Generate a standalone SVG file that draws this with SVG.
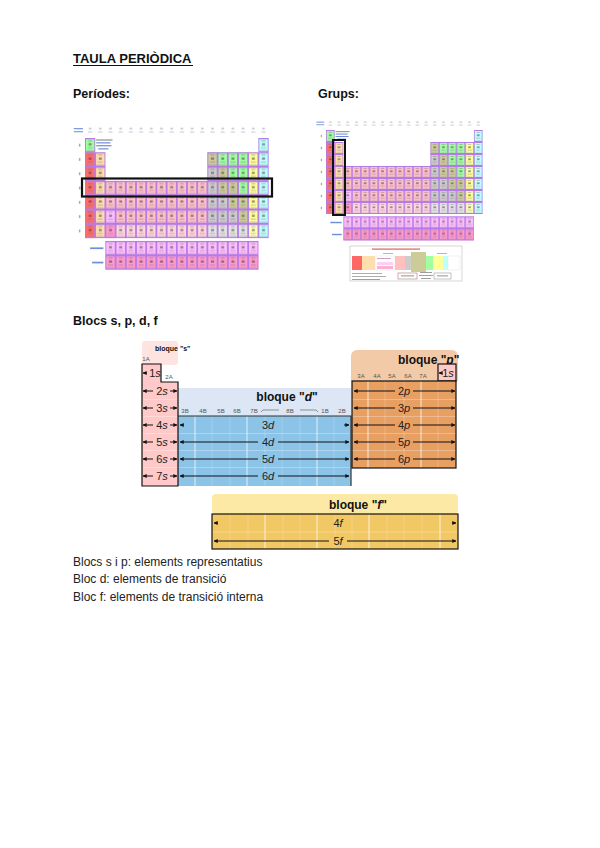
<svg xmlns="http://www.w3.org/2000/svg" width="600" height="848" viewBox="0 0 600 848">
<style>
text{font-family:"Liberation Sans",Arial,sans-serif}
.h{font-size:12.5px;font-weight:bold;fill:#111}
.note{font-size:12px;fill:#222}
.bt{font-size:12px;font-weight:bold;fill:#111}
.bs{font-size:7px;font-weight:bold;fill:#111}
.lbl{font-size:11px;fill:#222;text-anchor:middle}
.col{font-size:6px;fill:#555;text-anchor:middle}
.ar{stroke:#111;stroke-width:1;fill:none;marker-end:url(#ah)}
.ars{stroke:#111;stroke-width:1;fill:none;marker-start:url(#ah)}
.vl{stroke:#fff;stroke-width:1;opacity:.75}
.vf{stroke:#fff;stroke-width:.6;opacity:.35}
.hl{stroke:#fff;stroke-width:.7;opacity:.4}
.box{fill:none;stroke:#111;stroke-width:1.2}
.nm{fill:#a0ffa0}.ng{fill:#c0ffff}.alk{fill:#ff6b6b}.ae{fill:#ffdead}.met{fill:#cccc99}
.ptm{fill:#cccccc}.hal{fill:#ffff99}.tm{fill:#ffc0c8}.tm2{fill:#ffd6dc}.lan{fill:#ffbfff}
.act{fill:#ff99cc}.unk{fill:#e4e4e4}
</style>
<defs>
<marker id="ah" viewBox="0 0 6 6" refX="5.5" refY="3" markerWidth="4" markerHeight="4" orient="auto-start-reverse"><path d="M0,0L6,3L0,6z" fill="#111"/></marker>
<pattern id="g" width="10" height="10" patternUnits="userSpaceOnUse">
<rect x=".4" y=".4" width="9.2" height="9.2" fill="none" stroke="#b47ae6" stroke-width=".9"/>
<rect x="3" y="1.6" width="4" height=".7" fill="#666" opacity=".45"/>
<rect x="3.5" y="3.6" width="3" height="1.6" fill="#333" opacity=".5"/>
<rect x="2.5" y="6.4" width="5" height=".7" fill="#666" opacity=".4"/>
<rect x="2" y="8.2" width="6" height=".6" fill="#888" opacity=".35"/>
</pattern>
<pattern id="hd" width="10" height="10" patternUnits="userSpaceOnUse">
<rect x="3.8" y="3" width="2.4" height=".9" fill="#8a8fb0" opacity=".7"/>
<rect x="3" y="5.5" width="4" height=".7" fill="#aaa" opacity=".7"/>
</pattern>
<g id="pt">
<rect x="0" y="-10" width="180" height="10" fill="url(#hd)"/>
<rect x="-11" y="-7" width="9" height=".9" fill="#7d9be0"/>
<rect x="-11" y="-4.8" width="9" height=".8" fill="#7d9be0"/>
<g fill="#aaa">
<rect x="-6" y="4" width="1.5" height="2"/><rect x="-6" y="14" width="1.5" height="2"/><rect x="-6" y="24" width="1.5" height="2"/><rect x="-6" y="34" width="1.5" height="2"/><rect x="-6" y="44" width="1.5" height="2"/><rect x="-6" y="54" width="1.5" height="2"/><rect x="-6" y="64" width="1.5" height="2"/>
</g>
<rect x="11" y="1" width="16" height=".8" fill="#555" opacity=".7"/>
<rect x="11" y="3" width="14" height=".8" fill="#6a86d8"/>
<rect x="11" y="5" width="15" height=".8" fill="#6a86d8"/>
<rect x="13" y="7.2" width="10" height=".8" fill="#6a86d8"/>
<rect class="nm" x="0" y="0" width="10" height="10"/>
<rect class="ng" x="170" y="0" width="10" height="70"/>
<rect class="alk" x="0" y="10" width="10" height="60"/>
<rect class="ae" x="10" y="10" width="10" height="60"/>
<rect class="met" x="120" y="10" width="10" height="10"/>
<rect class="nm" x="130" y="10" width="30" height="10"/>
<rect class="hal" x="160" y="10" width="10" height="50"/>
<rect class="ptm" x="120" y="20" width="10" height="30"/>
<rect class="met" x="130" y="20" width="10" height="10"/>
<rect class="nm" x="140" y="20" width="20" height="10"/>
<rect class="tm" x="20" y="30" width="100" height="20"/>
<rect class="met" x="130" y="30" width="20" height="10"/>
<rect class="nm" x="150" y="30" width="10" height="10"/>
<rect class="ptm" x="130" y="40" width="10" height="10"/>
<rect class="met" x="140" y="40" width="20" height="10"/>
<rect class="lan" x="20" y="50" width="10" height="10"/>
<rect class="tm" x="30" y="50" width="90" height="10"/>
<rect class="ptm" x="120" y="50" width="30" height="10"/>
<rect class="met" x="150" y="50" width="10" height="10"/>
<rect class="act" x="20" y="60" width="10" height="10"/>
<rect class="tm2" x="30" y="60" width="90" height="10"/>
<rect class="unk" x="120" y="60" width="40" height="10"/>
<rect x="160" y="60" width="10" height="10" fill="#ffffb8"/>
<g fill="url(#g)">
<rect x="0" y="0" width="10" height="10"/>
<rect x="170" y="0" width="10" height="10"/>
<rect x="0" y="10" width="20" height="20"/>
<rect x="120" y="10" width="60" height="20"/>
<rect x="0" y="30" width="180" height="40"/>
</g>
<g transform="translate(0,2)">
<rect class="lan" x="20" y="70" width="150" height="10"/>
<rect class="act" x="20" y="80" width="150" height="10"/>
<rect x="20" y="70" width="150" height="20" fill="url(#g)"/>
</g>
<rect x="5" y="76.5" width="13" height="1.2" fill="#6c8fd8"/>
<rect x="7" y="86.5" width="11" height="1.2" fill="#6c8fd8"/>
</g>
</defs>

<g id="title">
<text x="73" y="63" class="h" style="font-size:13px">TAULA PERIÒDICA</text>
<line x1="73" y1="65.5" x2="193" y2="65.5" stroke="#111" stroke-width="1"/>
<text x="73" y="98" class="h">Períodes:</text>
<text x="318" y="98" class="h">Grups:</text>
<text x="73" y="325" class="h">Blocs s, p, d, f</text>
</g>

<g id="taula-periodes">
<use href="#pt" transform="translate(85,138) scale(1.02,1.43)"/>
<rect x="82" y="178.5" width="190" height="18" fill="none" stroke="#111" stroke-width="2.2"/>
</g>

<g id="taula-grups">
<use href="#pt" transform="translate(326,130) scale(0.87,1.2)"/>
<rect x="333" y="140" width="12" height="75" fill="none" stroke="#111" stroke-width="2"/>
<g id="llegenda">
<rect x="350" y="246" width="112" height="35" fill="#fff" stroke="#bbb" stroke-width=".6"/>
<rect x="372" y="248.5" width="48" height="1.2" fill="#e06060"/>
<rect x="383" y="253" width="10" height=".8" fill="#8aa8e0"/>
<rect x="437" y="253" width="10" height=".8" fill="#8aa8e0"/>
<rect x="352" y="256" width="10" height="14" fill="#ff6666"/>
<rect x="362" y="256" width="13" height="14" fill="#ffdead"/>
<rect x="375" y="256" width="20" height="14" fill="#fff" stroke="#ddd" stroke-width=".4"/>
<rect x="377" y="258" width="14" height="1" fill="#c9a0c0"/>
<rect x="377" y="262" width="16" height="3" fill="#fbd0f0"/>
<rect x="377" y="266" width="16" height="3" fill="#ffb0d0"/>
<rect x="395" y="256" width="10" height="14" fill="#ffc0c0"/>
<rect x="405" y="256" width="6" height="14" fill="#cccccc"/>
<rect x="411" y="252" width="15" height="20" fill="#cccc99"/>
<rect x="426" y="256" width="7" height="14" fill="#a0ffa0"/>
<rect x="433" y="256" width="10" height="14" fill="#ffff99"/>
<rect x="443" y="256" width="5" height="14" fill="#c0ffff"/>
<rect x="448" y="256" width="12" height="14" fill="#fff" stroke="#ddd" stroke-width=".4"/>
<rect x="352" y="273" width="30" height=".8" fill="#999"/>
<rect x="352" y="276" width="34" height=".8" fill="#999"/>
<rect x="352" y="279" width="28" height=".8" fill="#c66"/>
<rect x="398" y="273" width="19" height="6" fill="none" stroke="#a77" stroke-width=".6"/>
<rect x="401" y="275.5" width="13" height=".8" fill="#777"/>
<rect x="420" y="272" width="12" height=".8" fill="#888"/>
<rect x="419" y="275" width="14" height=".8" fill="#888"/>
<rect x="421" y="278" width="10" height=".8" fill="#888"/>
<rect x="434" y="273" width="17" height="6" fill="none" stroke="#999" stroke-width=".6"/>
<rect x="437" y="275.5" width="11" height=".8" fill="#777"/>
</g>
</g>

<g id="bloc-d">
<rect x="178" y="388" width="173" height="28" fill="#dce6f4"/>
<text x="287" y="401" class="bt" text-anchor="middle">bloque "<tspan font-style="italic">d</tspan>"</text>
<g class="col"><text x="185" y="413">3B</text><text x="203" y="413">4B</text><text x="221" y="413">5B</text><text x="237" y="413">6B</text><text x="254" y="413">7B</text><text x="290" y="413">8B</text><text x="325" y="413">1B</text><text x="342" y="413">2B</text></g>
<path d="M261,412 l2,-2 h16 M300,410 h16 l2,2" stroke="#555" stroke-width=".6" fill="none"/>
<rect x="178" y="416" width="173" height="70" fill="#8cc4e8"/>
<g class="vf"><line x1="212" y1="416" x2="212" y2="486"/><line x1="230" y1="416" x2="230" y2="486"/><line x1="265" y1="416" x2="265" y2="486"/><line x1="282" y1="416" x2="282" y2="486"/><line x1="300" y1="416" x2="300" y2="486"/><line x1="334" y1="416" x2="334" y2="486"/></g>
<g class="vl"><line x1="195" y1="416" x2="195" y2="486"/><line x1="247" y1="416" x2="247" y2="486"/><line x1="317" y1="416" x2="317" y2="486"/></g>
<g class="hl"><line x1="178" y1="433.5" x2="351" y2="433.5"/><line x1="178" y1="450.5" x2="351" y2="450.5"/><line x1="178" y1="467.5" x2="351" y2="467.5"/></g>
<path d="M178,416 H351 V486" fill="none" stroke="#333" stroke-width="1.2"/>
</g>

<g id="bloc-s">
<rect x="142" y="341" width="36" height="24" rx="3" fill="#fde4e0"/>
<text x="155" y="351" class="bs">bloque "s"</text>
<text x="146" y="361" class="col">1A</text>
<polygon points="142,364 161,364 161,382 178,382 178,486 142,486" fill="#ffc9c9"/>
<g class="hl"><line x1="142" y1="399.5" x2="178" y2="399.5"/><line x1="142" y1="416.5" x2="178" y2="416.5"/><line x1="142" y1="433.5" x2="178" y2="433.5"/><line x1="142" y1="450.5" x2="178" y2="450.5"/><line x1="142" y1="467.5" x2="178" y2="467.5"/></g>
<polygon class="box" points="142,364 161,364 161,382 178,382 178,486 142,486"/>
<text x="169" y="379" class="col">2A</text>
</g>

<g id="bloc-p">
<path d="M351,381 V356 a6,6 0 0 1 6,-6 H452 a6,6 0 0 1 6,6 V381 Z" fill="#f3caa8"/>
<text x="398" y="364" class="bt">bloque "<tspan font-style="italic">p</tspan>"</text>
<g class="col"><text x="361" y="378">3A</text><text x="377" y="378">4A</text><text x="392" y="378">5A</text><text x="408" y="378">6A</text><text x="423" y="378">7A</text></g>
<rect x="438" y="364" width="18" height="17" fill="#ffc9c9" stroke="#111" stroke-width="1.2"/>
<rect x="352" y="381" width="104" height="87" fill="#e89f62"/>
<g class="vf"><line x1="385" y1="381" x2="385" y2="468"/><line x1="404" y1="381" x2="404" y2="468"/><line x1="438" y1="381" x2="438" y2="468"/></g>
<g class="vl"><line x1="368" y1="381" x2="368" y2="468"/><line x1="421" y1="381" x2="421" y2="468"/></g>
<g class="hl"><line x1="352" y1="399.5" x2="456" y2="399.5"/><line x1="352" y1="416.5" x2="456" y2="416.5"/><line x1="352" y1="433.5" x2="456" y2="433.5"/><line x1="352" y1="450.5" x2="456" y2="450.5"/></g>
<rect x="352" y="381" width="104" height="87" class="box"/>
</g>

<g id="bloc-f">
<rect x="212" y="494" width="246" height="20" rx="4" fill="#fce9a6"/>
<text x="358" y="509" class="bt" text-anchor="middle">bloque "<tspan font-style="italic">f</tspan>"</text>
<rect x="212" y="514" width="246" height="35" fill="#f2c865"/>
<g class="vf"><line x1="230" y1="514" x2="230" y2="549"/><line x1="248" y1="514" x2="248" y2="549"/><line x1="283" y1="514" x2="283" y2="549"/><line x1="300" y1="514" x2="300" y2="549"/><line x1="335" y1="514" x2="335" y2="549"/><line x1="352" y1="514" x2="352" y2="549"/><line x1="387" y1="514" x2="387" y2="549"/><line x1="404" y1="514" x2="404" y2="549"/><line x1="422" y1="514" x2="422" y2="549"/></g>
<g class="vl"><line x1="265" y1="514" x2="265" y2="549"/><line x1="317" y1="514" x2="317" y2="549"/><line x1="369" y1="514" x2="369" y2="549"/><line x1="440" y1="514" x2="440" y2="549"/></g>
<line x1="212" y1="532" x2="458" y2="532" class="hl"/>
<rect x="212" y="514" width="246" height="35" class="box"/>
</g>

<g id="connectors">
<line x1="143" y1="373" x2="147" y2="373" class="ars"/>
<line x1="143" y1="391" x2="153" y2="391" class="ars"/><line x1="170" y1="391" x2="177" y2="391" class="ar"/>
<line x1="143" y1="408" x2="153" y2="408" class="ars"/><line x1="170" y1="408" x2="177" y2="408" class="ar"/>
<line x1="143" y1="425" x2="153" y2="425" class="ars"/><line x1="170" y1="425" x2="177" y2="425" class="ar"/>
<line x1="143" y1="442" x2="153" y2="442" class="ars"/><line x1="170" y1="442" x2="177" y2="442" class="ar"/>
<line x1="143" y1="459" x2="153" y2="459" class="ars"/><line x1="170" y1="459" x2="177" y2="459" class="ar"/>
<line x1="143" y1="476" x2="153" y2="476" class="ars"/><line x1="170" y1="476" x2="177" y2="476" class="ar"/>
<line x1="180" y1="425" x2="184" y2="425" class="ars"/><line x1="344" y1="425" x2="349" y2="425" class="ar"/>
<line x1="180" y1="442" x2="258" y2="442" class="ars"/><line x1="278" y1="442" x2="349" y2="442" class="ar"/>
<line x1="180" y1="459" x2="258" y2="459" class="ars"/><line x1="278" y1="459" x2="349" y2="459" class="ar"/>
<line x1="180" y1="476" x2="258" y2="476" class="ars"/><line x1="278" y1="476" x2="349" y2="476" class="ar"/>
<line x1="439" y1="373" x2="442" y2="373" class="ars"/>
<line x1="354" y1="391" x2="395" y2="391" class="ars"/><line x1="413" y1="391" x2="455" y2="391" class="ar"/>
<line x1="354" y1="408" x2="395" y2="408" class="ars"/><line x1="413" y1="408" x2="455" y2="408" class="ar"/>
<line x1="354" y1="425" x2="395" y2="425" class="ars"/><line x1="413" y1="425" x2="455" y2="425" class="ar"/>
<line x1="354" y1="442" x2="395" y2="442" class="ars"/><line x1="413" y1="442" x2="455" y2="442" class="ar"/>
<line x1="354" y1="459" x2="395" y2="459" class="ars"/><line x1="413" y1="459" x2="455" y2="459" class="ar"/>
<line x1="214" y1="523" x2="218" y2="523" class="ars"/><line x1="452" y1="523" x2="456" y2="523" class="ar"/>
<line x1="214" y1="541" x2="329" y2="541" class="ars"/><line x1="347" y1="541" x2="456" y2="541" class="ar"/>
</g>

<g id="etiquetes">
<text x="155" y="377" class="lbl">1<tspan font-style="italic">s</tspan></text>
<text x="162" y="395" class="lbl">2<tspan font-style="italic">s</tspan></text>
<text x="162" y="412" class="lbl">3<tspan font-style="italic">s</tspan></text>
<text x="162" y="429" class="lbl">4<tspan font-style="italic">s</tspan></text>
<text x="162" y="446" class="lbl">5<tspan font-style="italic">s</tspan></text>
<text x="162" y="463" class="lbl">6<tspan font-style="italic">s</tspan></text>
<text x="162" y="480" class="lbl">7<tspan font-style="italic">s</tspan></text>
<text x="268" y="429" class="lbl">3<tspan font-style="italic">d</tspan></text>
<text x="268" y="446" class="lbl">4<tspan font-style="italic">d</tspan></text>
<text x="268" y="463" class="lbl">5<tspan font-style="italic">d</tspan></text>
<text x="268" y="480" class="lbl">6<tspan font-style="italic">d</tspan></text>
<text x="448" y="377" class="lbl">1<tspan font-style="italic">s</tspan></text>
<text x="404" y="395" class="lbl">2<tspan font-style="italic">p</tspan></text>
<text x="404" y="412" class="lbl">3<tspan font-style="italic">p</tspan></text>
<text x="404" y="429" class="lbl">4<tspan font-style="italic">p</tspan></text>
<text x="404" y="446" class="lbl">5<tspan font-style="italic">p</tspan></text>
<text x="404" y="463" class="lbl">6<tspan font-style="italic">p</tspan></text>
<text x="338" y="527" class="lbl">4<tspan font-style="italic">f</tspan></text>
<text x="338" y="545" class="lbl">5<tspan font-style="italic">f</tspan></text>
</g>

<g id="notes">
<text x="73" y="566" class="note">Blocs s i p: elements representatius</text>
<text x="73" y="583" class="note">Bloc d: elements de transició</text>
<text x="73" y="601" class="note">Bloc f: elements de transició interna</text>
</g>
</svg>
